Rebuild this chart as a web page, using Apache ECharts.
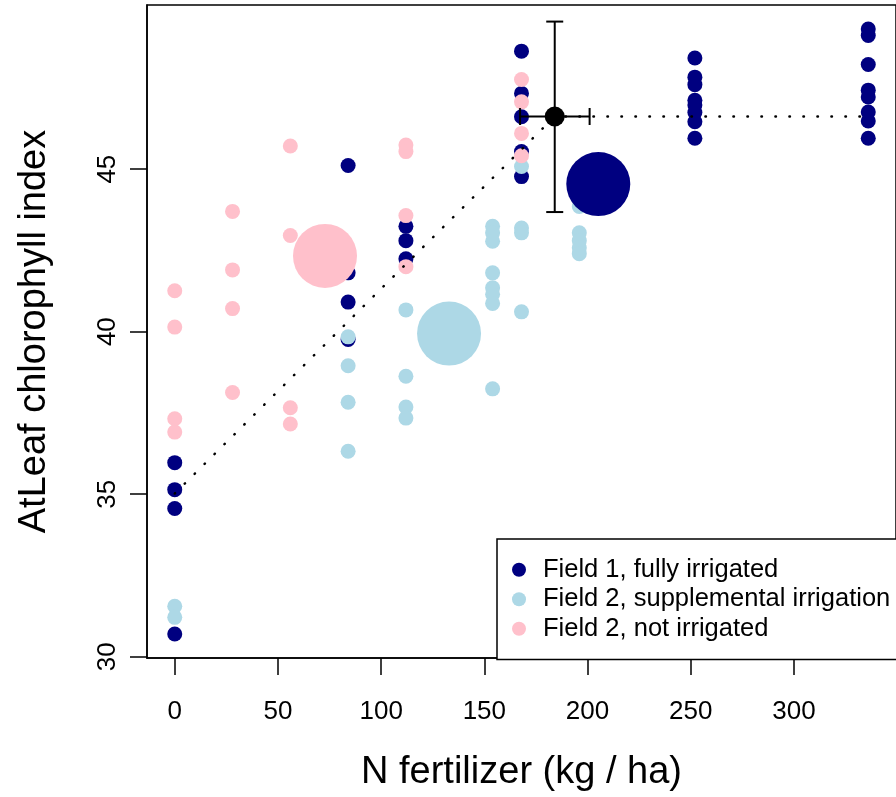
<!DOCTYPE html>
<html>
<head>
<meta charset="utf-8">
<script src="https://cdn.jsdelivr.net/npm/echarts@6/dist/echarts.min.js"></script>
<style>html,body{margin:0;padding:0;background:#fff}#c{width:896px;height:797px}</style>
</head>
<body>
<div id="c"></div>
<script>
// ---- data ----
const xTicks = [0, 50, 100, 150, 200, 250, 300];
const yTicks = [30, 35, 40, 45];
const seriesNames = ['Field 1, fully irrigated', 'Field 2, supplemental irrigation', 'Field 2, not irrigated'];

const field1 = [
  [0, 35.97], [0, 35.14], [0, 34.56], [0, 30.70],
  [84, 45.11], [84, 41.81], [84, 40.91], [84, 39.76],
  [112, 43.24], [112, 42.80], [112, 42.24],
  [168, 48.63], [168, 47.33], [168, 46.61], [168, 45.54], [168, 44.77],
  [252, 48.42], [252, 47.83], [252, 47.60], [252, 47.12], [252, 46.97], [252, 46.74], [252, 46.46], [252, 45.95],
  [336, 49.31], [336, 49.11], [336, 48.22], [336, 47.43], [336, 47.22], [336, 46.76], [336, 46.48], [336, 45.95]
];
const field2Supp = [
  [0, 31.55], [0, 31.21],
  [84, 39.84], [84, 38.95], [84, 37.83], [84, 36.32],
  [112, 40.67], [112, 38.63], [112, 37.68], [112, 37.34],
  [154, 43.24], [154, 43.04], [154, 42.78], [154, 41.81], [154, 41.35], [154, 41.15], [154, 40.87], [154, 38.24],
  [168, 45.08], [168, 43.19], [168, 43.04], [168, 40.61],
  [196, 43.85], [196, 43.04], [196, 42.80], [196, 42.58], [196, 42.40]
];
const field2Not = [
  [0, 41.26], [0, 40.14], [0, 37.32], [0, 36.91],
  [28, 43.70], [28, 41.90], [28, 40.71], [28, 38.13],
  [56, 45.71], [56, 42.96], [56, 37.66], [56, 37.16],
  [112, 45.74], [112, 45.54], [112, 43.57], [112, 42.00],
  [168, 47.76], [168, 47.07], [168, 46.10], [168, 45.41]
];
const groupMeans = [[205.2, 44.54], [132.9, 39.94], [72.8, 42.33]];
const plateauLine = [[0, 35.02], [184.1, 46.62], [336, 46.62]];
// [x, y, yLow, yHigh, xLow, xHigh]
const breakPoint = [[184.1, 46.62, 43.68, 49.54, 167.3, 201.0]];

// ---- chart ----
const colors = ['#000080', '#ADD8E6', '#FFC0CB'];
const FONT = 'Liberation Sans, Arial, Helvetica, sans-serif';
const chart = echarts.init(document.getElementById('c'), null, {renderer: 'canvas'});

const smallSeries = [field1, field2Supp, field2Not].map((d, i) => ({
  name: seriesNames[i], type: 'scatter', data: d, symbol: 'circle', symbolSize: 15,
  itemStyle: {color: colors[i], opacity: 1}, z: 2, silent: true
}));
const meanSeries = groupMeans.map((p, i) => ({
  name: 'mean ' + (i + 1), type: 'scatter', data: [p], symbol: 'circle', symbolSize: 64,
  itemStyle: {color: colors[i], opacity: 1}, z: 3, silent: true
}));

chart.setOption({
  animation: false,
  backgroundColor: '#fff',
  textStyle: {fontFamily: FONT},
  grid: {left: 147, right: -6, top: 5, bottom: 137, show: true, borderColor: '#000', borderWidth: 1.5, backgroundColor: 'transparent'},
  xAxis: {
    type: 'value', min: -13.44, max: 349.44,
    name: 'N fertilizer (kg / ha)', nameLocation: 'middle', nameGap: 96,
    nameTextStyle: {fontSize: 38, color: '#000', fontFamily: FONT},
    axisLine: {show: true, onZero: false, lineStyle: {color: '#000', width: 1.5}},
    axisTick: {show: true, length: 17, inside: false, customValues: xTicks, lineStyle: {color: '#000', width: 1.5}},
    axisLabel: {show: true, customValues: xTicks, margin: 41, fontSize: 26, color: '#000', fontFamily: FONT},
    splitLine: {show: false}
  },
  yAxis: {
    type: 'value', min: 29.96, max: 50.05,
    name: 'AtLeaf chlorophyll index', nameLocation: 'middle', nameGap: 93, nameRotate: 90,
    nameTextStyle: {fontSize: 38, color: '#000', fontFamily: FONT},
    axisLine: {show: true, onZero: false, lineStyle: {color: '#000', width: 1.5}},
    axisTick: {show: true, length: 17, inside: false, customValues: yTicks, lineStyle: {color: '#000', width: 1.5}},
    axisLabel: {show: true, customValues: yTicks, rotate: 90, margin: 26, fontSize: 26, color: '#000', fontFamily: FONT},
    splitLine: {show: false}
  },
  legend: {
    data: seriesNames, orient: 'vertical', left: 497, top: 539,
    padding: [16, 14, 16, 15], itemGap: 0, itemWidth: 14, itemHeight: 14, icon: 'circle',
    borderColor: '#000', borderWidth: 1.5, backgroundColor: '#fff',
    textStyle: {fontSize: 25.5, color: '#000', lineHeight: 29.5, padding: [0, 0, 0, 12], fontFamily: FONT},
    selectedMode: false
  },
  series: [
    ...smallSeries,
    ...meanSeries,
    {
      name: 'plateau', type: 'line', data: plateauLine, symbol: 'none', z: 4, silent: true,
      lineStyle: {color: '#000', width: 2.5, type: [0.5, 13.5], cap: 'round'}
    },
    {
      name: 'errorbars', type: 'custom', data: breakPoint, z: 5, silent: true, clip: false,
      encode: {x: 0, y: 1},
      renderItem: function (params, api) {
        const cx = api.value(0), cy = api.value(1);
        const vLo = api.coord([cx, api.value(2)]);
        const vHi = api.coord([cx, api.value(3)]);
        const hLo = api.coord([api.value(4), cy]);
        const hHi = api.coord([api.value(5), cy]);
        const c = 8.5;
        const st = {stroke: '#000', lineWidth: 2};
        return {
          type: 'group', children: [
            {type: 'line', shape: {x1: vLo[0], y1: vLo[1], x2: vHi[0], y2: vHi[1]}, style: st},
            {type: 'line', shape: {x1: vLo[0] - c, y1: vLo[1], x2: vLo[0] + c, y2: vLo[1]}, style: st},
            {type: 'line', shape: {x1: vHi[0] - c, y1: vHi[1], x2: vHi[0] + c, y2: vHi[1]}, style: st},
            {type: 'line', shape: {x1: hLo[0], y1: hLo[1], x2: hHi[0], y2: hHi[1]}, style: st},
            {type: 'line', shape: {x1: hLo[0], y1: hLo[1] - c, x2: hLo[0], y2: hLo[1] + c}, style: st},
            {type: 'line', shape: {x1: hHi[0], y1: hHi[1] - c, x2: hHi[0], y2: hHi[1] + c}, style: st}
          ]
        };
      }
    },
    {
      name: 'breakpoint', type: 'scatter', data: breakPoint.map(p => [p[0], p[1]]), symbol: 'circle', symbolSize: 20,
      itemStyle: {color: '#000', opacity: 1}, z: 6, silent: true
    }
  ]
});
</script>
</body>
</html>
